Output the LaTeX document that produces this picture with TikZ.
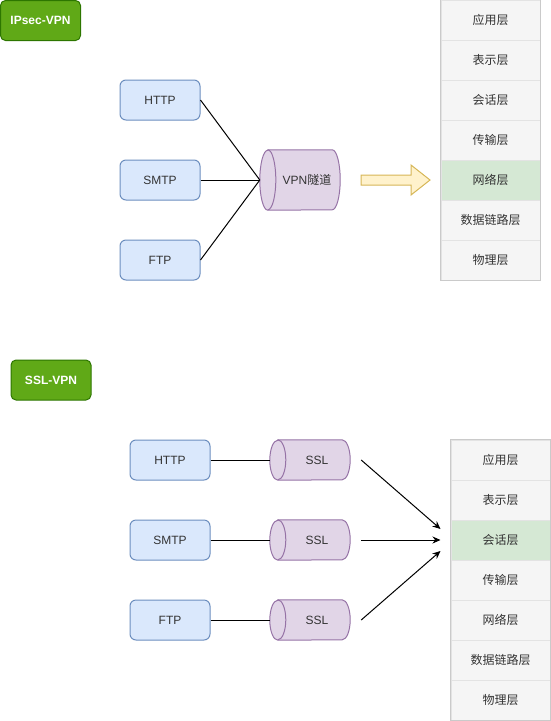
\documentclass[tikz,border=0pt]{standalone}
\usepackage{fontspec}
\setmainfont{Liberation Sans}
\newfontfamily\cjk{Noto Sans CJK SC}
\usetikzlibrary{calc,arrows.meta}
\definecolor{btnfill}{HTML}{60A917}
\definecolor{btnline}{HTML}{2D7600}
\definecolor{protofill}{HTML}{DAE8FC}
\definecolor{protoline}{HTML}{6C8EBF}
\definecolor{cylfill}{HTML}{E1D5E7}
\definecolor{cylline}{HTML}{9673A6}
\definecolor{layerfill}{HTML}{F5F5F5}
\definecolor{layerline}{HTML}{E3E3E3}
\definecolor{stackline}{HTML}{CACACA}
\definecolor{hilite}{HTML}{D5E8D4}
\definecolor{arrfill}{HTML}{FFF2CC}
\definecolor{arrline}{HTML}{D6B656}
\definecolor{txt}{HTML}{333333}
\pgfdeclarelayer{bg}
\pgfsetlayers{bg,main}
\newcommand\cylshape[2]{%
  \filldraw[cylstyle] ($(#1.north west)+(8,0)$) -- ($(#1.north east)+(-8,0)$)
    arc[start angle=90,end angle=-90,x radius=8,y radius=#2]
    -- ($(#1.south west)+(8,0)$)
    arc[start angle=270,end angle=90,x radius=8,y radius=#2] -- cycle;
  \draw[cylstyle,fill=none] ($(#1.north west)+(8,0)$)
    arc[start angle=90,end angle=-90,x radius=8,y radius=#2];
}
\begin{document}
\begin{tikzpicture}[x=1pt,y=1pt,
  every node/.style={font=\fontsize{12}{14}\selectfont},
  btn/.style={rectangle, rounded corners=5pt, fill=btnfill, draw=btnline, line width=1pt,
    text=white, font=\fontsize{12}{14}\selectfont\bfseries, minimum width=80pt, minimum height=40pt, inner sep=0pt},
  proto/.style={rectangle, rounded corners=6pt, fill=protofill, draw=protoline, line width=1pt,
    text=txt, minimum width=80pt, minimum height=40pt, inner sep=0pt},
  cylnode/.style={rectangle, minimum width=80pt, inner sep=0pt, text=txt},
  cylstyle/.style={fill=cylfill, draw=cylline, line width=1pt},
  layerbox/.style={rectangle, fill=layerfill, draw=layerline, line width=1pt,
    minimum width=99pt, minimum height=40pt, inner sep=0pt, text=txt,
    font=\fontsize{12}{14}\selectfont\cjk},
  conn/.style={draw=black, line width=1pt},
  arr/.style={draw=black, line width=1pt, -{Stealth[length=8pt,width=7pt]}},
  blockarrow/.style={fill=arrfill, draw=arrline, line width=1pt, line join=miter}
]
\useasboundingbox (0,0) rectangle (551,-721);

% ---------- IPsec-VPN ----------
\node[btn] (ipsec) at (40.5,-20.5) {IPsec-VPN};

\node[proto] (http1) at (160,-100) {HTTP};
\node[proto] (smtp1) at (160,-180) {SMTP};
\node[proto] (ftp1)  at (160,-260) {FTP};

\node[cylnode, minimum height=60pt] (vpn) at (300,-180) {\hspace*{14pt}VPN{\cjk 隧道}};
\begin{pgfonlayer}{bg}
  \cylshape{vpn}{30}
\end{pgfonlayer}

\draw[conn] (http1.east) -- (vpn.west);
\draw[conn] (smtp1.east) -- (vpn.west);
\draw[conn] (ftp1.east) -- (vpn.west);

\node[layerbox] (t1) at (490.5,-20) {应用层};
\node[layerbox] (t2) at (490.5,-60) {表示层};
\node[layerbox] (t3) at (490.5,-100) {会话层};
\node[layerbox] (t4) at (490.5,-140) {传输层};
\node[layerbox, fill=hilite] (t5) at (490.5,-180) {网络层};
\node[layerbox] (t6) at (490.5,-220) {数据链路层};
\node[layerbox] (t7) at (490.5,-260) {物理层};
\draw[stackline, line width=1pt] (t1.north west) rectangle (t7.south east);

\coordinate (ba) at (361,-180);
\filldraw[blockarrow] ($(ba)+(0,5)$) -- ++(50,0) -- ++(0,10) -- ($(ba)+(69,0)$)
  -- ($(ba)+(50,-15)$) -- ++(0,10) -- ($(ba)+(0,-5)$) -- cycle;

% ---------- SSL-VPN ----------
\node[btn] (sslvpn) at (51,-380) {SSL-VPN};

\node[proto] (http2) at (170,-460) {HTTP};
\node[proto] (smtp2) at (170,-540) {SMTP};
\node[proto] (ftp2)  at (170,-620) {FTP};

\node[cylnode, minimum height=40pt] (ssl1) at (310,-460) {\hspace*{14pt}SSL};
\node[cylnode, minimum height=40pt] (ssl2) at (310,-540) {\hspace*{14pt}SSL};
\node[cylnode, minimum height=40pt] (ssl3) at (310,-620) {\hspace*{14pt}SSL};
\begin{pgfonlayer}{bg}
  \cylshape{ssl1}{20}
  \cylshape{ssl2}{20}
  \cylshape{ssl3}{20}
\end{pgfonlayer}

\draw[conn] (http2.east) -- (ssl1.west);
\draw[conn] (smtp2.east) -- (ssl2.west);
\draw[conn] (ftp2.east) -- (ssl3.west);

\node[layerbox] (b1) at (500.5,-460) {应用层};
\node[layerbox] (b2) at (500.5,-500) {表示层};
\node[layerbox, fill=hilite] (b3) at (500.5,-540) {会话层};
\node[layerbox] (b4) at (500.5,-580) {传输层};
\node[layerbox] (b5) at (500.5,-620) {网络层};
\node[layerbox] (b6) at (500.5,-660) {数据链路层};
\node[layerbox] (b7) at (500.5,-700) {物理层};
\draw[stackline, line width=1pt] (b1.north west) rectangle (b7.south east);

\coordinate (s1) at ($(ssl1.east)+(11,0)$);
\coordinate (s2) at ($(ssl2.east)+(11,0)$);
\coordinate (s3) at ($(ssl3.east)+(11,0)$);
\coordinate (e1) at ($(b3.west)+(-10,11)$);
\coordinate (e2) at ($(b3.west)+(-10,0)$);
\coordinate (e3) at ($(b3.west)+(-10,-11)$);
\draw[arr] (s1) -- (e1);
\draw[arr] (s2) -- (e2);
\draw[arr] (s3) -- (e3);
\end{tikzpicture}
\end{document}
